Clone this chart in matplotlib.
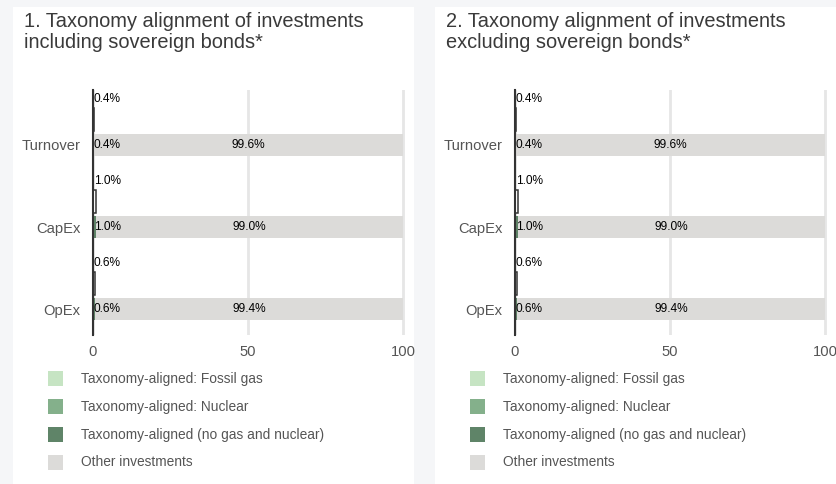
import matplotlib
matplotlib.use('Agg')
import matplotlib.pyplot as plt
from matplotlib.patches import Rectangle
import numpy as np

plt.rcParams['font.family'] = ['Liberation Sans', 'DejaVu Sans']

# data
categories = ['Turnover', 'CapEx', 'OpEx']
titles = ['1. Taxonomy alignment of investments\nincluding sovereign bonds*',
          '2. Taxonomy alignment of investments\nexcluding sovereign bonds*']
total_aligned_incl = [0.4, 1.0, 0.6]
fossil_gas_incl = [0.0, 0.0, 0.0]
nuclear_incl = [0.0, 0.0, 0.0]
aligned_incl = [0.4, 1.0, 0.6]
other_incl = [99.6, 99.0, 99.4]
total_aligned_excl = [0.4, 1.0, 0.6]
fossil_gas_excl = [0.0, 0.0, 0.0]
nuclear_excl = [0.0, 0.0, 0.0]
aligned_excl = [0.4, 1.0, 0.6]
other_excl = [99.6, 99.0, 99.4]
legend_labels = ['Taxonomy-aligned: Fossil gas', 'Taxonomy-aligned: Nuclear',
                 'Taxonomy-aligned (no gas and nuclear)', 'Other investments']
xticks = [0, 50, 100]

c_gas = '#c6e4c3'
c_nuc = '#84b08b'
c_alg = '#5f8468'
c_oth = '#dcdbd9'
colors = [c_gas, c_nuc, c_alg, c_oth]

W, H = 837, 484
fig = plt.figure(figsize=(W / 100, H / 100), dpi=100)
fig.patch.set_facecolor('#f5f6f8')


def fx(px):
    return px / W


def fy(py):
    return 1 - py / H


panels = [
    (titles[0], total_aligned_incl, fossil_gas_incl, nuclear_incl, aligned_incl, other_incl),
    (titles[1], total_aligned_excl, fossil_gas_excl, nuclear_excl, aligned_excl, other_excl),
]

for i, (title, tot, gas, nuc, alg, oth) in enumerate(panels):
    off = 422 * i
    # white card
    fig.add_artist(Rectangle((fx(13 + off), 0), fx(401), fy(7), transform=fig.transFigure,
                             facecolor='white', edgecolor='none', zorder=0))
    fig.text(fx(24 + off), fy(12), title, ha='left', va='top', fontsize=14.4,
             color='#3a3a3a', linespacing=1.12)

    ax = fig.add_axes([fx(93 + off), fy(335), fx(3.1 * 100.6), (335 - 90) / H])
    ax.set_facecolor('none')
    y = np.arange(len(categories))
    h = 0.28
    yu = y - 0.315

    ax.barh(yu, tot, height=h, color='white', edgecolor='#333333', linewidth=1.1, zorder=3)
    left = np.zeros(len(categories))
    for vals, c in zip([gas, nuc, alg, oth], colors):
        ax.barh(y, vals, left=left, height=h, color=c, zorder=3)
        left = left + np.array(vals)

    for j in range(len(categories)):
        ax.text(0.3, yu[j] - h / 2 - 0.1, f'{tot[j]:.1f}%', ha='left', va='center',
                fontsize=8.6, color='black', zorder=5)
        ax.text(0.3, y[j], f'{alg[j]:.1f}%', ha='left', va='center',
                fontsize=8.6, color='black', zorder=5)
        start = gas[j] + nuc[j] + alg[j]
        ax.text(start + oth[j] / 2, y[j], f'{oth[j]:.1f}%', ha='center', va='center',
                fontsize=8.6, color='black', zorder=5)

    ax.set_xlim(0, 100.6)
    ax.set_ylim(2 + 26 / 82, -55 / 82)
    ax.set_yticks(y)
    ax.set_yticklabels(categories)
    ax.set_xticks(xticks)
    ax.tick_params(axis='both', length=0, labelsize=10.6, labelcolor='#555555')
    ax.tick_params(axis='y', pad=9)
    ax.tick_params(axis='x', pad=7)
    for s in ['top', 'right', 'bottom']:
        ax.spines[s].set_visible(False)
    ax.spines['left'].set_color('#333333')
    ax.spines['left'].set_linewidth(1.5)
    ax.spines['left'].set_zorder(4)
    ax.xaxis.grid(True, color='#e6e6e6', linewidth=2)
    ax.set_axisbelow(True)

    # legend
    for k, (lab, c) in enumerate(zip(legend_labels, colors)):
        cy = 378.5 + 28 * k
        fig.add_artist(Rectangle((fx(48 + off), fy(cy + 7.5)), fx(15), 15 / H,
                                 transform=fig.transFigure, facecolor=c, edgecolor='none'))
        fig.text(fx(81 + off), fy(cy), lab, ha='left', va='center', fontsize=9.9,
                 color='#555555')

fig.savefig('out.png', dpi=100, facecolor=fig.get_facecolor())
